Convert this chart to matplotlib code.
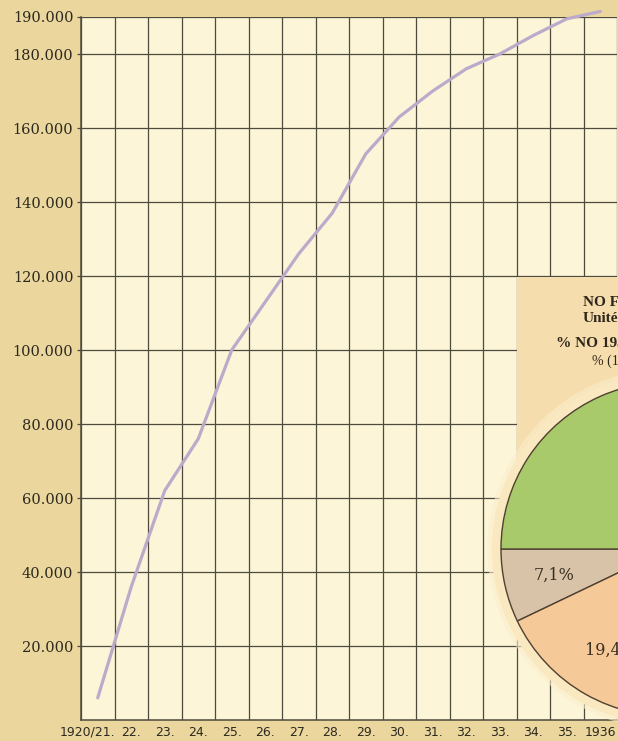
import numpy as np
import matplotlib
matplotlib.use("Agg")
import matplotlib.pyplot as plt
from matplotlib.patches import Rectangle, Circle

# ---------------- data ----------------
years = ["1920/21.", "22.", "23.", "24.", "25.", "26.", "27.", "28.", "29.",
         "30.", "31.", "32.", "33.", "34.", "35.", "1936"]
values = [6000, 36000, 62000, 76000, 100000, 113000, 126000, 137000, 153000,
          163000, 170000, 176000, 180000, 185000, 189500, 191500]
y_ticks = [20000, 40000, 60000, 80000, 100000, 120000, 140000, 160000, 180000, 190000]
y_tick_labels = ["20.000", "40.000", "60.000", "80.000", "100.000", "120.000",
                 "140.000", "160.000", "180.000", "190.000"]

pie_values = [7.1, 19.4, 73.5]
pie_labels = ["7,1%", "19,4%", ""]
pie_colors = ["#d8c3a8", "#f6c999", "#a9ca6b"]
pie_title = ["NO FORDELING", "Unités", "% NO 1936", "% (1936)"]

# ---------------- figure ----------------
W, H = 618, 741
fig = plt.figure(figsize=(W / 100, H / 100), dpi=100)
fig.patch.set_facecolor("#ebd79e")

grid_col = "#4d4b3d"
ax = fig.add_axes([81 / W, 21 / H, 536 / W, 703 / H])
ax.set_facecolor("#fcf5d8")
ax.set_xlim(0, len(years))
ax.set_ylim(0, 190000)

x = np.arange(len(years)) + 0.5
ax.plot(x, values, color="#bcaacb", lw=2.3, solid_capstyle="round",
        solid_joinstyle="round", clip_on=False, zorder=3)

# grid
ax.set_xticks(np.arange(len(years) + 1), minor=True)
ax.set_xticks(x)
ax.set_xticklabels([""] + years[1:], fontsize=9, color="#2c291f",
                   family="DejaVu Sans")
ax.tick_params(axis="x", which="both", length=0, pad=4)
ax.xaxis.grid(True, which="minor", color=grid_col, lw=0.9)
ax.xaxis.grid(False, which="major")
ax.set_yticks(y_ticks)
ax.set_yticklabels(y_tick_labels, fontsize=10.5, color="#2c291f",
                   family="DejaVu Serif")
ax.tick_params(axis="y", length=3, width=0.9, color=grid_col, pad=2.5)
ax.yaxis.grid(True, color=grid_col, lw=0.9)
ax.set_axisbelow(True)
for s in ["top", "right"]:
    ax.spines[s].set_visible(False)
for s in ["left", "bottom"]:
    ax.spines[s].set_color(grid_col)
    ax.spines[s].set_linewidth(1.1)

ax.annotate(years[0], xy=(1, 0), xycoords=("data", "axes fraction"),
            xytext=(0.5, -4), textcoords="offset points", ha="right", va="top",
            fontsize=9, color="#2c291f", family="DejaVu Sans", annotation_clip=False)

# ---------------- pie inset ----------------
cx, cy, r = 668, H - 549, 167
box = Rectangle((516.5 / W, (H - 549) / H), 1 - 516.5 / W, (549 - 277) / H,
                transform=fig.transFigure, facecolor="#f6ddad", edgecolor="none",
                zorder=1)
fig.patches.append(box)

pax = fig.add_axes([(cx - r) / W, (cy - r) / H, 2 * r / W, 2 * r / H], zorder=2)
pax.patch.set_alpha(0)
for rr, col, al in [(1.08, "#fbefcb", 0.6), (1.055, "#fae9c0", 1.0)]:
    pax.add_patch(Circle((0, 0), rr, facecolor=col, edgecolor="none",
                         alpha=al, clip_on=False, zorder=0))
wedges, _ = pax.pie(pie_values, colors=pie_colors, startangle=180,
                    counterclock=True, radius=1,
                    wedgeprops=dict(edgecolor="#4f4030", linewidth=1.0))
for w in wedges:
    w.set_clip_on(False)
for w, lab in zip(wedges, pie_labels):
    if not lab:
        continue
    ang = np.deg2rad((w.theta1 + w.theta2) / 2)
    pax.text(0.7 * np.cos(ang), 0.7 * np.sin(ang), lab, ha="center",
             va="center", fontsize=11.5, family="DejaVu Serif", color="#3a3022",
             clip_on=False)
pax.set_xlim(-1, 1)
pax.set_ylim(-1, 1)
pax.axis("off")

tcol = "#2f271b"
fig.text(583 / W, 1 - 306 / H, pie_title[0], fontsize=11, weight="bold",
         family="Liberation Serif", color=tcol, va="baseline", zorder=5)
fig.text(583 / W, 1 - 322 / H, pie_title[1], fontsize=11, weight="bold",
         family="Liberation Serif", color=tcol, va="baseline", zorder=5)
fig.text(556 / W, 1 - 347 / H, pie_title[2], fontsize=11, weight="bold",
         family="Liberation Serif", color=tcol, va="baseline", zorder=5)
fig.text(592 / W, 1 - 365 / H, pie_title[3], fontsize=10,
         family="Liberation Serif", color=tcol, va="baseline", zorder=5)

fig.savefig("out.png", dpi=100, facecolor=fig.get_facecolor())
